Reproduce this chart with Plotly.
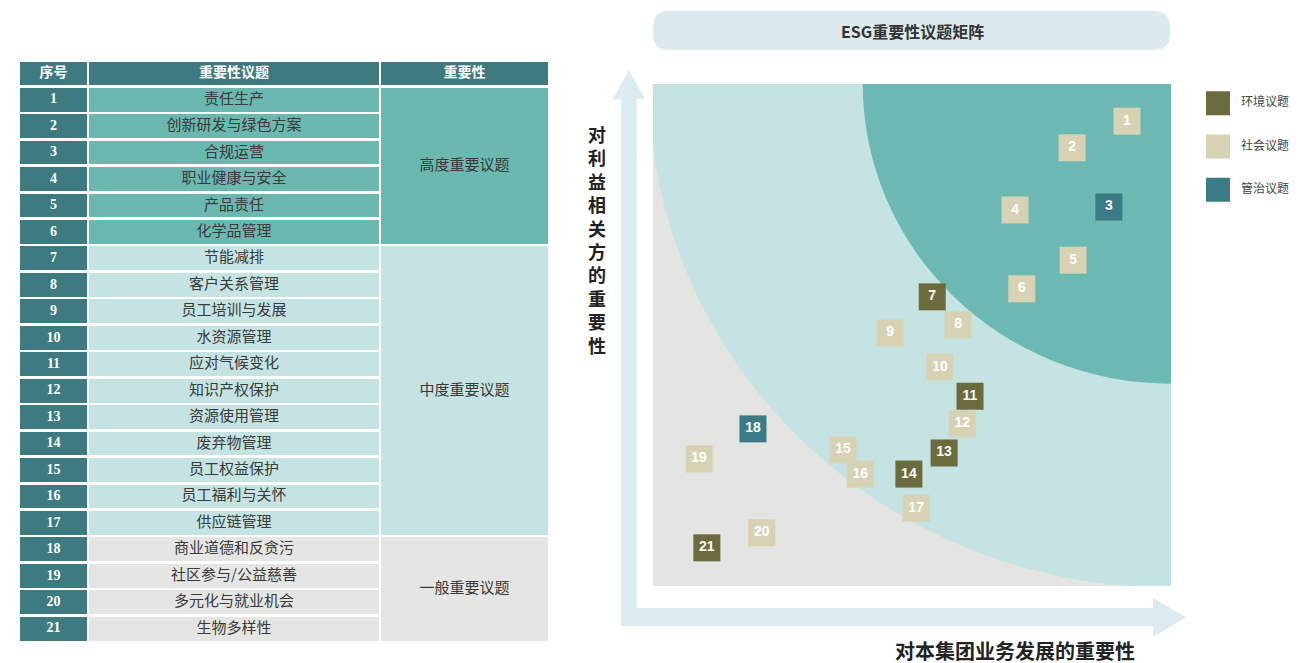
import plotly.graph_objects as go

# ---------------- data ----------------
header_labels = ["序号", "重要性议题", "重要性"]
topic_ids = [str(i) for i in range(1, 22)]
topic_names = [
    "责任生产", "创新研发与绿色方案", "合规运营", "职业健康与安全", "产品责任", "化学品管理",
    "节能减排", "客户关系管理", "员工培训与发展", "水资源管理", "应对气候变化", "知识产权保护",
    "资源使用管理", "废弃物管理", "员工权益保护", "员工福利与关怀", "供应链管理",
    "商业道德和反贪污", "社区参与/公益慈善", "多元化与就业机会", "生物多样性",
]
level_names = ["高度重要议题", "中度重要议题", "一般重要议题"]
level_counts = [6, 11, 4]

matrix_labels = ["1", "2", "3", "4", "5", "6", "7", "8", "9", "10", "11",
                 "12", "13", "14", "15", "16", "17", "18", "19", "20", "21"]
business_importance = [9.15, 8.09, 8.80, 6.99, 8.11, 7.12, 5.39, 5.89, 4.58, 5.54, 6.12,
                       5.97, 5.62, 4.94, 3.67, 4.00, 5.08, 1.93, 0.89, 2.10, 1.04]
stakeholder_importance = [9.26, 8.73, 7.55, 7.49, 6.49, 5.92, 5.76, 5.20, 5.04, 4.36, 3.78,
                          3.23, 2.65, 2.23, 2.71, 2.23, 1.55, 3.13, 2.53, 1.06, 0.76]
topic_category = ["社会议题", "社会议题", "管治议题", "社会议题", "社会议题", "社会议题", "环境议题",
                  "社会议题", "社会议题", "社会议题", "环境议题", "社会议题", "环境议题", "环境议题",
                  "社会议题", "社会议题", "社会议题", "管治议题", "社会议题", "社会议题", "环境议题"]
category_names = ["环境议题", "社会议题", "管治议题"]

zone_rx = [10.08, 5.95]
zone_ry = [10.04, 5.97]

title_text = "ESG重要性议题矩阵"
x_title = "对本集团业务发展的重要性"
y_title = "对利益相关方的重要性"

# ---------------- styles ----------------
W, H = 1305, 663
OFF = 8  # page body margin
CAT_COLORS = {"环境议题": "#6b6b3d", "社会议题": "#d8d2b4", "管治议题": "#3b7b86"}
LEVEL_COLORS = ["#6bb8b1", "#c4e3e2", "#e5e5e4"]
DARK = "#3d7b80"
ZONE_COLORS = ["#c4e3e2", "#6cb8b2"]
GREY = "#e4e4e2"
ARROW = "#dcebef"
CJK = "Noto Sans CJK SC"

col_x0 = [0, 69, 361]
col_w = [67, 290, 167]


def px(x):
    return (x - OFF) / W


def py(y):
    return 1 - (y - OFF) / H


fig = go.Figure()

# ---------------- table (x2 / y2) ----------------
rows = list(range(1, len(topic_ids) + 1))
row_level = []
for li, c in enumerate(level_counts):
    row_level += [li] * c

fig.add_trace(go.Bar(orientation="h", y=[0, 0, 0], x=col_w, base=col_x0, width=[0.86] * 3,
                     marker=dict(color=DARK, line=dict(width=0)), xaxis="x2", yaxis="y2",
                     hoverinfo="skip", showlegend=False))
fig.add_trace(go.Bar(orientation="h", y=rows, x=[col_w[0]] * len(rows), base=[col_x0[0]] * len(rows),
                     width=[0.9] * len(rows), marker=dict(color=DARK, line=dict(width=0)),
                     xaxis="x2", yaxis="y2", hoverinfo="skip", showlegend=False))
fig.add_trace(go.Bar(orientation="h", y=rows, x=[col_w[1]] * len(rows), base=[col_x0[1]] * len(rows),
                     width=[0.9] * len(rows),
                     marker=dict(color=[LEVEL_COLORS[l] for l in row_level], line=dict(width=0)),
                     xaxis="x2", yaxis="y2", hoverinfo="skip", showlegend=False))
lvl_centers = []
start = 1
for c in level_counts:
    lvl_centers.append(start + (c - 1) / 2)
    start += c
fig.add_trace(go.Bar(orientation="h", y=lvl_centers, x=[col_w[2]] * 3, base=[col_x0[2]] * 3,
                     width=[c - 0.1 for c in level_counts],
                     marker=dict(color=LEVEL_COLORS, line=dict(width=0)),
                     xaxis="x2", yaxis="y2", hoverinfo="skip", showlegend=False))

centers = [x0 + w / 2 for x0, w in zip(col_x0, col_w)]
fig.add_trace(go.Scatter(x=centers, y=[0, 0, 0], mode="text", text=["<b>%s</b>" % t for t in header_labels],
                         textfont=dict(family=CJK, size=14, color="white"),
                         xaxis="x2", yaxis="y2", hoverinfo="skip", showlegend=False))
fig.add_trace(go.Scatter(x=[centers[0]] * len(rows), y=rows, mode="text",
                         text=["<b>%s</b>" % t for t in topic_ids],
                         textfont=dict(family="Liberation Serif", size=14, color="white"),
                         xaxis="x2", yaxis="y2", hoverinfo="skip", showlegend=False))
fig.add_trace(go.Scatter(x=[centers[1]] * len(rows), y=rows, mode="text", text=topic_names,
                         textfont=dict(family=CJK, size=15, color="#3a3a3a"),
                         xaxis="x2", yaxis="y2", hoverinfo="skip", showlegend=False))
fig.add_trace(go.Scatter(x=[centers[2]] * 3, y=lvl_centers, mode="text", text=level_names,
                         textfont=dict(family=CJK, size=15, color="#3a3a3a"),
                         xaxis="x2", yaxis="y2", hoverinfo="skip", showlegend=False))

# ---------------- matrix (x / y) ----------------
for cat in category_names:
    idx = [i for i, c in enumerate(topic_category) if c == cat]
    fig.add_trace(go.Scatter(
        x=[business_importance[i] for i in idx],
        y=[stakeholder_importance[i] for i in idx],
        text=["<b>%s</b>" % matrix_labels[i] for i in idx],
        mode="markers+text", textposition="middle center",
        marker=dict(symbol="square", size=27, color=CAT_COLORS[cat], line=dict(width=0)),
        textfont=dict(family="Liberation Sans", size=14, color="white"),
        hoverinfo="skip", showlegend=False, xaxis="x", yaxis="y"))

# ---------------- legend (x3 / y3) ----------------
leg_y = list(range(len(category_names)))
fig.add_trace(go.Scatter(x=[23] * 3, y=leg_y, mode="markers",
                         marker=dict(symbol="square", size=24, color=[CAT_COLORS[c] for c in category_names]),
                         xaxis="x3", yaxis="y3", hoverinfo="skip", showlegend=False))
fig.add_trace(go.Scatter(x=[46] * 3, y=leg_y, mode="text", text=category_names, textposition="middle right",
                         textfont=dict(family=CJK, size=12, color="#444"),
                         xaxis="x3", yaxis="y3", hoverinfo="skip", showlegend=False))

# ---------------- shapes ----------------
shapes = []
shapes.append(dict(type="rect", xref="x", yref="y", x0=0, x1=10, y0=0, y1=10,
                   fillcolor=GREY, line=dict(width=0), layer="below"))
for rx, ry, col in zip(zone_rx, zone_ry, ZONE_COLORS):
    shapes.append(dict(type="circle", xref="x", yref="y", x0=10 - rx, x1=10 + rx, y0=10 - ry, y1=10 + ry,
                       fillcolor=col, line=dict(width=0), layer="below"))


def rounded_rect(x0, y0, x1, y1, r):
    pts = [
        "M %f,%f" % (px(x0 + r), py(y0)),
        "L %f,%f" % (px(x1 - r), py(y0)),
        "Q %f,%f %f,%f" % (px(x1), py(y0), px(x1), py(y0 + r)),
        "L %f,%f" % (px(x1), py(y1 - r)),
        "Q %f,%f %f,%f" % (px(x1), py(y1), px(x1 - r), py(y1)),
        "L %f,%f" % (px(x0 + r), py(y1)),
        "Q %f,%f %f,%f" % (px(x0), py(y1), px(x0), py(y1 - r)),
        "L %f,%f" % (px(x0), py(y0 + r)),
        "Q %f,%f %f,%f" % (px(x0), py(y0), px(x0 + r), py(y0)),
        "Z",
    ]
    return " ".join(pts)


shapes.append(dict(type="path", xref="paper", yref="paper", path=rounded_rect(653, 11, 1170, 50, 16),
                   fillcolor="#dceaed", line=dict(width=0), layer="below"))

arrow_pts = [(621, 626), (1153, 626), (1153, 637), (1186, 617), (1153, 598), (1153, 608),
             (637, 608), (637, 99), (645, 99), (629, 70), (613, 99), (621, 99)]
apath = "M " + " L ".join("%f,%f" % (px(a), py(b)) for a, b in arrow_pts) + " Z"
shapes.append(dict(type="path", xref="paper", yref="paper", path=apath,
                   fillcolor=ARROW, line=dict(width=0), layer="below"))

annotations = [
    dict(x=px(912), y=py(31), xref="paper", yref="paper", text="<b>%s</b>" % title_text, showarrow=False,
         font=dict(family=CJK, size=16, color="#333"), xanchor="center", yanchor="middle"),
    dict(x=px(1015), y=py(650), xref="paper", yref="paper", text="<b>%s</b>" % x_title, showarrow=False,
         font=dict(family=CJK, size=20, color="#222"), xanchor="center", yanchor="middle"),
    dict(x=px(597), y=py(240), xref="paper", yref="paper", text="<b>%s</b>" % "<br>".join(list(y_title)),
         showarrow=False, font=dict(family=CJK, size=18, color="#222"), xanchor="center", yanchor="middle"),
]

noax = dict(showgrid=False, zeroline=False, showticklabels=False, ticks="", showline=False, fixedrange=True)

fig.update_layout(
    width=W, height=H, margin=dict(l=0, r=0, t=0, b=0),
    paper_bgcolor="white", plot_bgcolor="rgba(0,0,0,0)",
    barmode="overlay", bargap=0,
    shapes=shapes, annotations=annotations,
    xaxis=dict(domain=[px(653), px(1171)], range=[0, 10], **noax),
    yaxis=dict(domain=[py(586), py(84)], range=[0, 10], **noax),
    xaxis2=dict(domain=[px(20), px(548)], range=[0, 528], anchor="y2", **noax),
    yaxis2=dict(domain=[py(642.2), py(60.3)], range=[21.5, -0.5], anchor="x2", **noax),
    xaxis3=dict(domain=[px(1195), px(1305)], range=[0, 110], anchor="y3", **noax),
    yaxis3=dict(domain=[py(211.5), py(81.5)], range=[2.5, -0.5], anchor="x3", **noax),
)

fig.write_html("out.html")
